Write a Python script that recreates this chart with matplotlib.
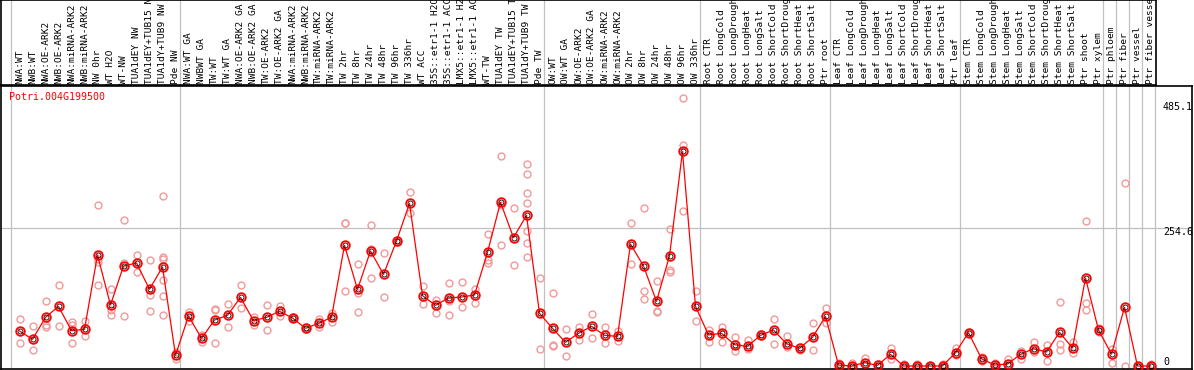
import matplotlib
matplotlib.use("Agg")
import matplotlib.pyplot as plt

# sample labels, left to right
labels = [
    "NWA:WT", "NWB:WT", "NWA:OE-ARK2", "NWB:OE-ARK2", "NWA:miRNA-ARK2", "NWB:miRNA-ARK2",
    "NW 0hr", "WT H2O", "WT-NW", "TUA1dEY NW", "TUA1dEY+TUB15 NW", "TUA1dY+TUB9 NW", "Pde NW",
    "NWA:WT GA", "NWBWT GA", "TW:WT", "TW:WT GA", "NWA:OE-ARK2 GA", "NWB:OE-ARK2 GA",
    "TW:OE-ARK2", "TW:OE-ARK2 GA", "NWA:miRNA-ARK2", "NWB:miRNA-ARK2", "TW:miRNA-ARK2",
    "TW:miRNA-ARK2", "TW 2hr", "TW 8hr", "TW 24hr", "TW 48hr", "TW 96hr", "TW 336hr",
    "WT ACC", "35S::etr1-1 H2O", "35S::etr1-1 ACC", "LMX5::etr1-1 H2O", "LMX5::etr1-1 ACC",
    "WT-TW", "TUA1dEY TW", "TUA1dEY+TUB15 TW", "TUA1dY+TUB9 TW", "Pde TW",
    "OW:WT", "OW:WT GA", "OW:OE-ARK2", "OW:OE-ARK2 GA", "OW:miRNA-ARK2", "OW:miRNA-ARK2",
    "OW 2hr", "OW 8hr", "OW 24hr", "OW 48hr", "OW 96hr", "OW 336hr",
    "Root CTR", "Root LongCold", "Root LongDrought", "Root LongHeat", "Root LongSalt",
    "Root ShortCold", "Root ShortDrought", "Root ShortHeat", "Root ShortSalt", "Ptr root",
    "Leaf CTR", "Leaf LongCold", "Leaf LongDrought", "Leaf LongHeat", "Leaf LongSalt",
    "Leaf ShortCold", "Leaf ShortDrought", "Leaf ShortHeat", "Leaf ShortSalt", "Ptr leaf",
    "Stem CTR", "Stem LongCold", "Stem LongDrought", "Stem LongHeat", "Stem LongSalt",
    "Stem ShortCold", "Stem ShortDrought", "Stem ShortHeat", "Stem ShortSalt", "Ptr shoot",
    "Ptr xylem", "Ptr phloem", "Ptr fiber", "Ptr vessel", "Ptr fiber vessel",
]

# mean expression per sample
means = [
    64.6, 49.2, 89.8, 110, 65.2, 67.7, 204.8, 112.5, 184.5, 190, 141.5, 182.7, 19.7,
    92.3, 51, 84.9, 93.5, 126.7, 83.6, 89.8, 100.9, 88.6, 69.5, 78.7, 89.8, 222.6, 141.5,
    212.2, 169, 230.6, 300, 129.8, 111.9, 125.5, 127.3, 131, 209.7, 302, 236.8, 278, 97.2,
    69.5, 43.7, 60.3, 73.2, 56.6, 54.7, 225, 184.5, 119.3, 203, 396, 110,
    57.2, 60.3, 39.4, 36.3, 56.6, 66.4, 41.2, 32.6, 52.9, 91.6,
    1.8, 0, 6.2, 1.2, 21.5, 0, 0, 0, 0, 24.6,
    61.5, 13.5, 1.8, 3.7, 21.5, 32, 25.8, 62.1, 33.2, 162.4, 66.4, 22, 108.2, 0, 0,
]

# individual replicates per sample
reps = [
    [86.7, 41.8], [73.8, 28.9], [119.9, 75, 72.5], [149.4, 73.2], [81.2, 75, 41.8],
    [83, 56], [296.4, 198, 192, 149.4], [142, 93.5, 103], [268.8, 190.6, 92.3],
    [204.8, 174], [195, 130.4, 100.9], [313.7, 201, 198, 158, 128.5, 93.5], [25, 13.5],
    [100.2, 83.6], [57.8, 45], [105, 103, 41.8], [113.8, 71.3], [149.4, 106.4], [91, 75],
    [112.5, 66.4], [111.3, 92.9], [88.6, 91], [71.5, 67.5], [87.3, 71.3], [98.4, 81.8],
    [264.5, 263.5, 139], [187.6, 135.3, 99.6], [259.5, 216.5, 161.7], [208.5, 126.7],
    [232, 229], [320.4, 281.7], [148.2, 113.8], [121.8, 97.2], [152.5, 120, 93.5],
    [155, 109.5], [142, 115.6], [243.5, 196, 190], [387.5, 296.4, 222.6], [290.9, 185.7],
    [372.7, 353.6, 318.6, 300, 248.5, 226.3, 200.5], [161.7, 30.7],
    [134.7, 38.7, 37], [67.7, 19], [71.3, 48], [95.9, 51], [71.3, 41.8], [65.2, 46.7],
    [263.2, 188.2], [290.9, 138.4, 123], [156.2, 102.1, 100], [252.2, 178, 174],
    [493.8, 407.7, 286], [138.4, 83],
    [66.4, 43.7], [71.3, 43.7], [52.9, 28.3], [47.4, 30.7], [58.4, 55], [86.7, 40.6],
    [55.4, 34.4], [35.7, 30], [78.7, 28.9], [106.4, 78.7],
    [6.2, 0], [4.9, 0], [14.1, 2], [3.7, 0], [32.6, 12.3], [3.7, 0], [3.7, 0], [0, 0],
    [3, 0], [32.6, 20.3],
    [63, 60], [17.2, 10], [4.9, 0], [13.5, 0], [28.3, 13.5], [43.7, 26.4], [38.7, 9.2],
    [118, 40.6, 29.5], [44.9, 23.4], [267.5, 116.8, 103.3], [69.5, 63], [31, 6],
    [337, 0], [0], [4, 0],
]

# first sample of each group (1-based)
group_starts = [1, 14, 42, 54, 64, 74, 85, 86, 87, 88, 89]
yticks = [0, 254.6, 485.1]
gene = "Potri.004G199500"

W, H = 1194, 370
fig = plt.figure(figsize=(W / 100, H / 100), dpi=100)

def px_axes(x0, y0, x1, y1):
    return fig.add_axes([x0 / W, 1 - y1 / H, (x1 - x0) / W, (y1 - y0) / H])

mono = "DejaVu Sans Mono"
grid_c = "#c0c0c0"
x = list(range(1, len(labels) + 1))

# sample position -> pixel: 19.5 + 13*(i-1)
def xpix(p):
    return 1 + (p - 19.5) / 13

# main plot
ax = px_axes(1, 86, 1192, 369)
ax.set_xlim(xpix(1), xpix(1192))
ax.set_ylim((366 - 369) / 0.542, (366 - 86) / 0.542)
ax.set_xticks([])
ax.set_yticks([])
for s in ax.spines.values():
    s.set_color("black")
    s.set_linewidth(1.2)

for g in group_starts:
    ax.axvline(g - 0.65, color=grid_c, lw=0.9, zorder=0)
ax.axhline(yticks[1], color=grid_c, lw=0.9, zorder=0)

for xi, r in zip(x, reps):
    ax.plot([xi] * len(r), r, "o", ms=5, mfc="none", mec="#f09a9a", mew=1.0, zorder=2)

ax.plot(x, means, "-", color="red", lw=0.9, zorder=3)
ax.plot(x, means, "o", ms=6.2, mfc="none", mec="red", mew=1.3, zorder=4)
ax.plot(x, means, "o", ms=3.6, mfc="none", mec="black", mew=0.6, zorder=5)

ax.text(8 / 1191, 1 - 11 / 283, gene, transform=ax.transAxes, color="red",
        family=mono, fontsize=7.2, ha="left", va="center")

for t in yticks:
    ax.text(xpix(1163), max(t - 8, 7.5), ("%g" % t), family=mono, fontsize=7.2,
            ha="left", va="center", color="black")

# label strip on top
lab = px_axes(1, 0, 1156, 85)
lab.set_xlim(xpix(1), xpix(1156))
lab.set_ylim(85, 0)
lab.set_xticks([])
lab.set_yticks([])
for s in lab.spines.values():
    s.set_color("black")
    s.set_linewidth(1.2)
for g in group_starts[:-1]:
    lab.axvline(g - 0.65, color=grid_c, lw=0.9, zorder=0)
for xi, name in zip(x, labels):
    lab.text(xi, 83.5, name, rotation=90, family=mono, fontsize=6.8,
             ha="center", va="bottom", clip_on=True)

fig.savefig("out.png", dpi=100)
